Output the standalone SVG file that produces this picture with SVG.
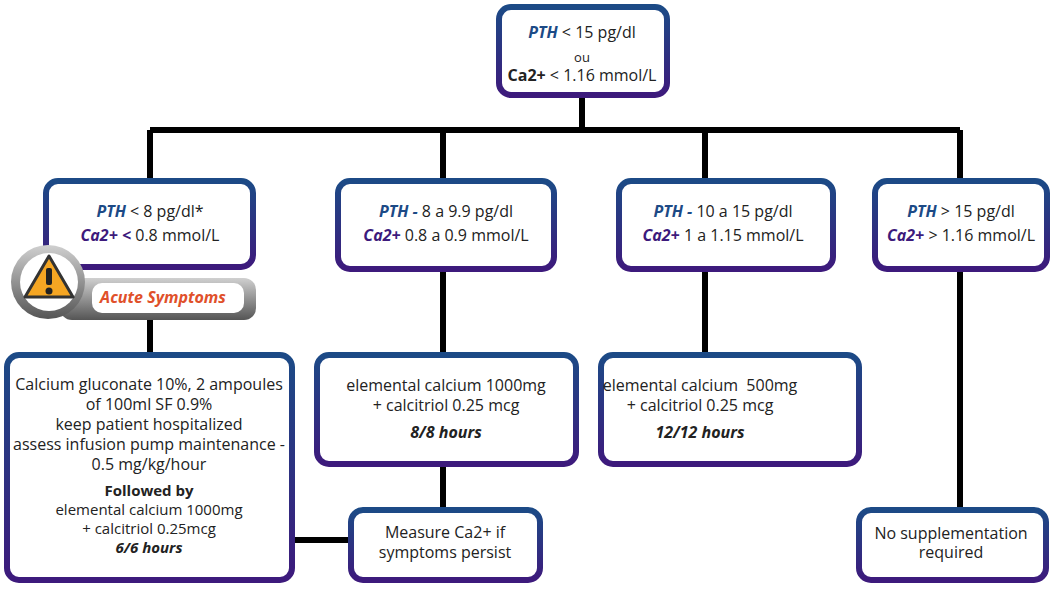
<svg xmlns="http://www.w3.org/2000/svg" width="1054" height="597" viewBox="0 0 1054 597">
<defs>
<linearGradient id="bd" x1="0" y1="0" x2="0" y2="1"><stop offset="0" stop-color="#1c4a86"/><stop offset="1" stop-color="#3d1a7c"/></linearGradient>
<linearGradient id="gr" x1="0" y1="0" x2="0" y2="1"><stop offset="0" stop-color="#d0d0d0"/><stop offset="1" stop-color="#555"/></linearGradient>
<style>
.b{fill:#fff;stroke:url(#bd);stroke-width:6}
.t{font-family:"Open Sans","Liberation Sans",sans-serif;font-size:16px;fill:#222;text-anchor:middle}
.s{font-size:15px}
.p{font-weight:bold;font-style:italic;fill:#1c4a86}
.c{font-weight:bold;font-style:italic;fill:#3d1a7c}
.k{font-weight:bold;font-style:italic}
.l{stroke:#000;stroke-width:6;fill:none}
</style>
</defs>
<g id="connectors">
<path class="l" d="M582 96V130M150 130H960M150 130V178M443 130V178M705 130V178M960 130V178M150 318V352M443 270V352M443 465V507M705 270V352M960 270V507M292 540H348"/>
</g>
<g id="n0"><rect class="b" x="499" y="7" width="168" height="88" rx="12"/>
<text class="t" x="582" y="38"><tspan class="p">PTH</tspan> &lt; 15 pg/dl</text>
<text class="t" x="582" y="62" style="font-size:13px">ou</text>
<text class="t" x="582" y="81"><tspan font-weight="bold">Ca2+</tspan> &lt; 1.16 mmol/L</text></g>
<g id="n1"><rect class="b" x="46" y="181" width="207" height="86" rx="12"/>
<text class="t" x="150" y="217"><tspan class="p">PTH</tspan> &lt; 8 pg/dl*</text>
<text class="t" x="150" y="241"><tspan class="c">Ca2+ &lt;</tspan> 0.8 mmol/L</text></g>
<g id="warn"><rect x="60" y="278" width="196" height="42" rx="12" fill="url(#gr)"/>
<rect x="92" y="283" width="152" height="30" rx="10" fill="#fff"/>
<text x="163" y="303" style="font-family:'Open Sans','Liberation Sans',sans-serif;font-size:16px;font-weight:bold;font-style:italic;fill:#e0502a;text-anchor:middle">Acute Symptoms</text>
<circle cx="48" cy="282" r="37" fill="url(#gr)"/><circle cx="49" cy="282" r="29" fill="#fff"/>
<path d="M49 256L73 297H25Z" fill="#f5a623" stroke="#333" stroke-width="3" stroke-linejoin="round"/>
<rect x="46" y="268" width="6" height="17" rx="2" fill="#222"/><circle cx="49" cy="291" r="3.5" fill="#222"/></g>
<g id="n2"><rect class="b" x="338" y="181" width="216" height="88" rx="12"/>
<text class="t" x="446" y="217"><tspan class="p">PTH -</tspan> 8 a 9.9 pg/dl</text>
<text class="t" x="446" y="241"><tspan class="c">Ca2+</tspan> 0.8 a 0.9 mmol/L</text></g>
<g id="n3"><rect class="b" x="619" y="181" width="214" height="88" rx="12"/>
<text class="t" x="723" y="217"><tspan class="p">PTH -</tspan> 10 a 15 pg/dl</text>
<text class="t" x="723" y="241"><tspan class="c">Ca2+</tspan> 1 a 1.15 mmol/L</text></g>
<g id="n4"><rect class="b" x="875" y="181" width="172" height="88" rx="12"/>
<text class="t" x="961" y="217"><tspan class="p">PTH</tspan> &gt; 15 pg/dl</text>
<text class="t" x="961" y="241"><tspan class="c">Ca2+</tspan> &gt; 1.16 mmol/L</text></g>
<g id="n5"><rect class="b" x="7" y="355" width="285" height="225" rx="12"/>
<text class="t" x="149" y="390">Calcium gluconate 10%, 2 ampoules</text>
<text class="t" x="149" y="410">of 100ml SF 0.9%</text>
<text class="t" x="149" y="430">keep patient hospitalized</text>
<text class="t" x="149" y="450">assess infusion pump maintenance -</text>
<text class="t" x="149" y="470">0.5 mg/kg/hour</text>
<text class="t s" x="149" y="496" font-weight="bold">Followed by</text>
<text class="t s" x="149" y="515">elemental calcium 1000mg</text>
<text class="t s" x="149" y="534">+ calcitriol 0.25mcg</text>
<text class="t s" x="149" y="553"><tspan class="k">6/6 hours</tspan></text></g>
<g id="n6"><rect class="b" x="317" y="355" width="259" height="109" rx="12"/>
<text class="t" x="446" y="391">elemental calcium 1000mg</text>
<text class="t" x="446" y="411">+ calcitriol 0.25 mcg</text>
<text class="t" x="446" y="438"><tspan class="k">8/8 hours</tspan></text></g>
<g id="n7"><rect class="b" x="601" y="355" width="258" height="109" rx="12"/>
<text class="t" x="700" y="391">elemental calcium&#160; 500mg</text>
<text class="t" x="700" y="411">+ calcitriol 0.25 mcg</text>
<text class="t" x="700" y="438"><tspan class="k">12/12 hours</tspan></text></g>
<g id="n8"><rect class="b" x="351" y="510" width="189" height="70" rx="12"/>
<text class="t" x="445" y="538">Measure Ca2+ if</text>
<text class="t" x="445" y="558">symptoms persist</text></g>
<g id="n9"><rect class="b" x="859" y="510" width="187" height="70" rx="12"/>
<text class="t" x="951" y="539">No supplementation</text>
<text class="t" x="951" y="558">required</text></g>
</svg>
